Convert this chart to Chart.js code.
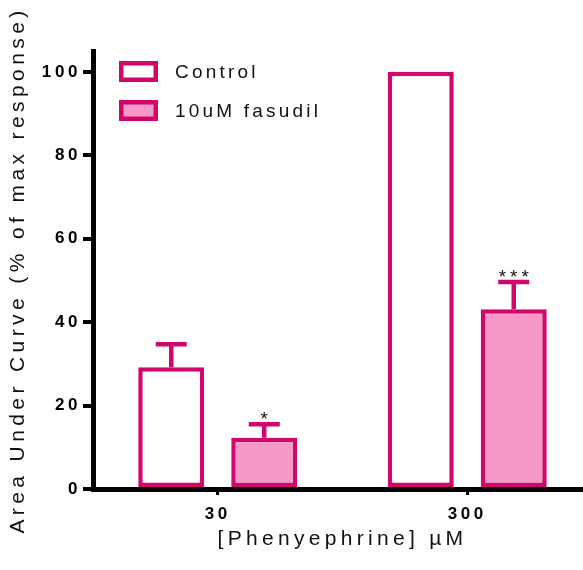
<!DOCTYPE html>
<html>
<head>
<meta charset="utf-8">
<script src="https://cdn.jsdelivr.net/npm/chart.js@4.4.1/dist/chart.umd.min.js"></script>
<style>
  html, body { margin: 0; padding: 0; background: #fff; overflow: hidden; }
  #wrap { position: absolute; left: 0; top: 0; width: 592px; height: 570px; }
</style>
</head>
<body>
<div id="wrap"><canvas id="aucChart"></canvas></div>
<script>
// data
const doses = ['30', '300'];
const controlValues = [29.2, 100];
const controlErrors = [5.5, 0];
const fasudilValues = [12.3, 43.1];
const fasudilErrors = [3.2, 6.5];
const fasudilStars = ['*', '***'];
const yTicks = [0, 20, 40, 60, 80, 100];

const magenta = '#D0086C';
const pink = '#F799C6';
const fontFamily = "'Liberation Sans', Arial, Helvetica, sans-serif";

// canvas letter spacing, per piece of text
function spaced(fn, sp) {
  return function (...args) {
    const ctx = this.ctx;
    ctx.save();
    ctx.letterSpacing = sp;
    fn.apply(this, args);
    ctx.restore();
  };
}

const spacingPlugin = {
  id: 'spacing',
  afterUpdate(chart) {
    const { x, y } = chart.scales;
    if (x._spaced) return;
    x._spaced = y._spaced = true;
    x.drawTitle = spaced(x.drawTitle, '4.3px');
    y.drawTitle = spaced(y.drawTitle, '4.4px');
    x.drawLabels = spaced(x.drawLabels, '3.6px');
    y.drawLabels = spaced(y.drawLabels, '3.6px');
  }
};

// SEM bars (upper only) + significance stars
const errorBarPlugin = {
  id: 'errorBars',
  afterDatasetsDraw(chart) {
    const ctx = chart.ctx;
    const yScale = chart.scales.y;
    chart.data.datasets.forEach((ds, i) => {
      const meta = chart.getDatasetMeta(i);
      meta.data.forEach((bar, j) => {
        const err = ds.errors[j];
        if (!err) return;
        const top = yScale.getPixelForValue(ds.data[j] + err);
        ctx.save();
        ctx.strokeStyle = ds.borderColor;
        ctx.lineWidth = 4.5;
        ctx.beginPath();
        ctx.moveTo(bar.x, bar.y);
        ctx.lineTo(bar.x, top);
        ctx.moveTo(bar.x - 15.5, top);
        ctx.lineTo(bar.x + 15.5, top);
        ctx.stroke();
        const star = ds.stars && ds.stars[j];
        if (star) {
          ctx.fillStyle = '#111';
          ctx.font = '19px ' + fontFamily;
          ctx.letterSpacing = '4px';
          ctx.textAlign = 'center';
          ctx.textBaseline = 'alphabetic';
          ctx.fillText(star, bar.x + 2, top + 1);
        }
        ctx.restore();
      });
    });
  }
};

// legend sits inside the plot, top left
const legendPlugin = {
  id: 'insideLegend',
  afterDraw(chart) {
    const ctx = chart.ctx;
    chart.data.datasets.forEach((ds, i) => {
      const y0 = 61 + i * 39;
      ctx.save();
      ctx.fillStyle = ds.backgroundColor;
      ctx.fillRect(119, y0, 39, 21);
      ctx.strokeStyle = ds.borderColor;
      ctx.lineWidth = 4.5;
      ctx.strokeRect(121.25, y0 + 2.25, 34.5, 16.5);
      ctx.fillStyle = '#111';
      ctx.font = '19px ' + fontFamily;
      ctx.letterSpacing = '3.2px';
      ctx.textAlign = 'left';
      ctx.textBaseline = 'middle';
      ctx.fillText(ds.label, 175, y0 + 11.5);
      ctx.restore();
    });
  }
};

Chart.defaults.font.family = fontFamily;
Chart.defaults.color = '#111';

new Chart(document.getElementById('aucChart'), {
  type: 'bar',
  data: {
    labels: doses,
    datasets: [
      {
        label: 'Control',
        data: controlValues,
        errors: controlErrors,
        backgroundColor: '#ffffff',
        borderColor: magenta,
        borderWidth: 4.5,
        borderSkipped: false
      },
      {
        label: '10uM fasudil',
        data: fasudilValues,
        errors: fasudilErrors,
        stars: fasudilStars,
        backgroundColor: pink,
        borderColor: magenta,
        borderWidth: 4.5,
        borderSkipped: false
      }
    ]
  },
  options: {
    responsive: true,
    maintainAspectRatio: false,
    animation: false,
    layout: { padding: { top: 51, left: 0, right: 0, bottom: 0 } },
    categoryPercentage: 0.7455,
    barPercentage: 0.71,
    plugins: {
      legend: { display: false },
      tooltip: { enabled: false }
    },
    scales: {
      x: {
        z: 1,
        offset: true,
        grid: {
          offset: false,
          drawOnChartArea: false,
          drawTicks: true,
          tickLength: 6,
          color: '#000',
          lineWidth: 3
        },
        border: { display: true, color: '#000', width: 5 },
        ticks: {
          color: '#000',
          padding: 9,
          font: { size: 17, weight: 'bold' }
        },
        title: {
          display: true,
          text: '[Phenyephrine] \u00b5M',
          color: '#111',
          font: { size: 21 },
          padding: { top: 0, bottom: 18 }
        },
        afterFit(scale) { scale.height = 81; }
      },
      y: {
        z: 1,
        min: 0,
        max: 105,
        afterBuildTicks(scale) {
          scale.ticks = yTicks.map(v => ({ value: v }));
        },
        grid: {
          drawOnChartArea: false,
          drawTicks: true,
          tickLength: 10,
          color: '#000',
          lineWidth: 4
        },
        border: { display: true, color: '#000', width: 5 },
        ticks: {
          color: '#000',
          padding: 2,
          font: { size: 17, weight: 'bold' }
        },
        title: {
          display: true,
          text: 'Area Under Curve (% of max response)',
          color: '#111',
          font: { size: 21 },
          padding: { top: 6, bottom: 0 }
        },
        afterFit(scale) { scale.width = 93; }
      }
    }
  },
  plugins: [spacingPlugin, errorBarPlugin, legendPlugin]
});
</script>
</body>
</html>
